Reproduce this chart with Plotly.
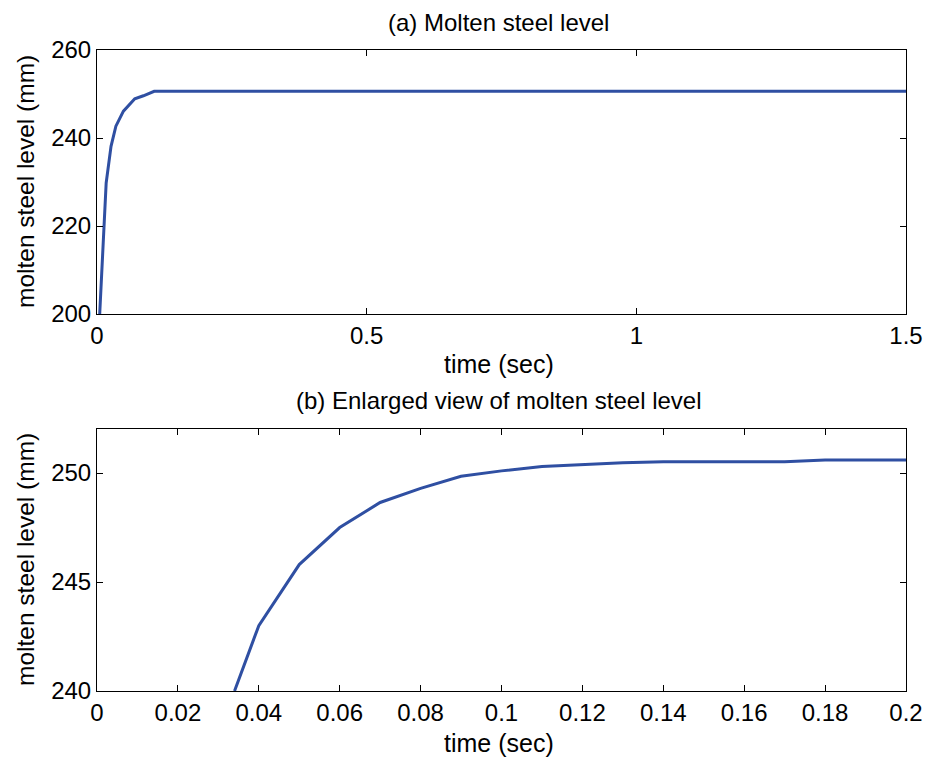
import plotly.graph_objects as go
from plotly.subplots import make_subplots

# (a) full response
t_full = [0.005, 0.017, 0.026, 0.035, 0.049, 0.070, 0.086, 0.106, 1.5]
level_full = [200.0, 229.8, 238.1, 242.7, 246.1, 248.9, 249.6, 250.6, 250.6]

# (b) enlarged view
t_zoom = [0.034, 0.04, 0.05, 0.06, 0.07, 0.08, 0.09, 0.10, 0.11, 0.12, 0.13,
          0.14, 0.15, 0.16, 0.17, 0.18, 0.19, 0.20]
level_zoom = [240.0, 243.0, 245.8, 247.5, 248.65, 249.3, 249.85, 250.1, 250.3,
              250.4, 250.47, 250.52, 250.52, 250.52, 250.52, 250.6, 250.6, 250.6]

x_ticks_a = [0, 0.5, 1, 1.5]
x_ticklabels_a = ["0", "0.5", "1", "1.5"]
y_ticks_a = [200, 220, 240, 260]
x_ticks_b = [0, 0.02, 0.04, 0.06, 0.08, 0.1, 0.12, 0.14, 0.16, 0.18, 0.2]
x_ticklabels_b = ["0", "0.02", "0.04", "0.06", "0.08", "0.1", "0.12", "0.14", "0.16", "0.18", "0.2"]
y_ticks_b = [240, 245, 250]

FONT = "Liberation Sans, Arial, sans-serif"
LINE = "#2F4FA2"

fig = make_subplots(rows=2, cols=1, vertical_spacing=0.18)
fig.add_trace(go.Scatter(x=t_full, y=level_full, mode="lines",
                         line=dict(color=LINE, width=3), showlegend=False), row=1, col=1)
fig.add_trace(go.Scatter(x=t_zoom, y=level_zoom, mode="lines",
                         line=dict(color=LINE, width=3), showlegend=False), row=2, col=1)

axis_common = dict(showline=True, linecolor="black", linewidth=1, mirror="ticks",
                   ticks="inside", ticklen=6, tickcolor="black", tickwidth=1,
                   showgrid=False, zeroline=False, automargin=False,
                   tickfont=dict(family=FONT, size=24, color="black"))

fig.update_layout(
    width=927, height=761,
    margin=dict(l=97, r=21, t=50, b=70, autoexpand=False),
    plot_bgcolor="white", paper_bgcolor="white",
    font=dict(family=FONT, size=24, color="black"),
    xaxis=dict(domain=[0, 1], range=[0, 1.5], tickvals=x_ticks_a, ticktext=x_ticklabels_a,
               anchor="y", **axis_common),
    yaxis=dict(domain=[0.588, 1], range=[200, 260], tickvals=y_ticks_a, anchor="x",
               **axis_common),
    xaxis2=dict(domain=[0, 1], range=[0, 0.2], tickvals=x_ticks_b, ticktext=x_ticklabels_b,
                anchor="y2", **axis_common),
    yaxis2=dict(domain=[0, 0.408], range=[240, 252], tickvals=y_ticks_b, anchor="x2",
                **axis_common),
)

def ann(text, x, y, size, rot=0):
    fig.add_annotation(text=text, xref="paper", yref="paper", x=x, y=y,
                       showarrow=False, textangle=rot,
                       font=dict(family=FONT, size=size, color="black"),
                       xanchor="center", yanchor="middle")

H = 641.0
def py(pix):
    return (691 - pix) / H
def px(pix):
    return (pix - 97) / 809.0

ann("(a) Molten steel level", px(498), py(22), 24)
ann("time (sec)", px(499), py(364), 25)
ann("(b) Enlarged view of molten steel level", px(499), py(400), 24)
ann("time (sec)", px(499), py(743), 25)
ann("molten steel level (mm)", px(25), py(182), 24.5, rot=-90)
ann("molten steel level (mm)", px(25), py(560), 24.5, rot=-90)

fig.write_html("out.html", config={"displayModeBar": False},
               post_script="document.body.style.margin='0px';")
